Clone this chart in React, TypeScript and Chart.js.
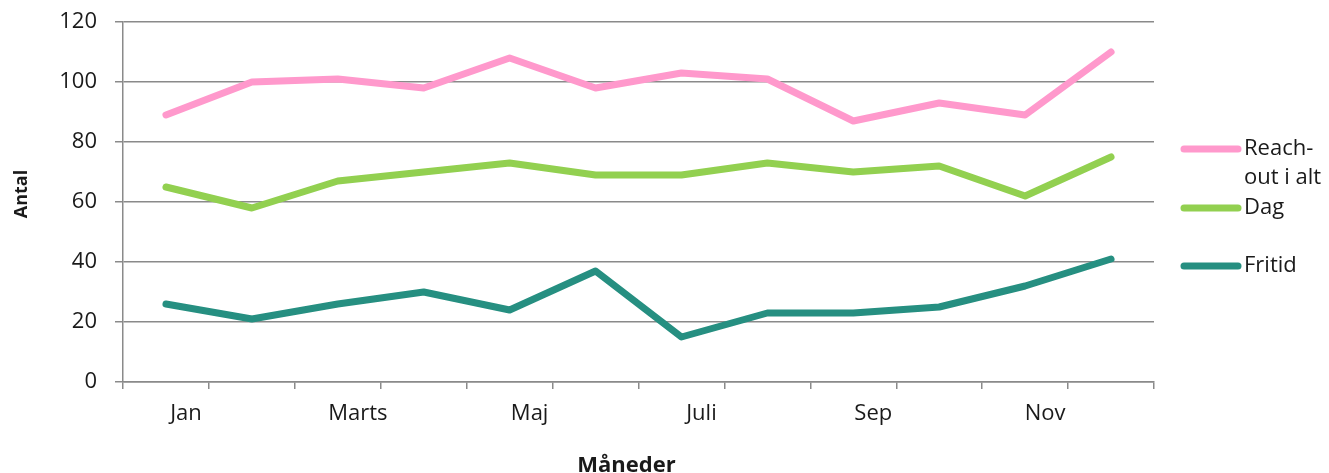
import React, { useEffect, useRef } from "react";
import { Chart, registerables } from "chart.js";

Chart.register(...registerables);

const months = ["Jan", "Feb", "Marts", "April", "Maj", "Juni", "Juli", "Aug", "Sep", "Okt", "Nov", "Dec"];
const reachOut = [89, 100, 101, 98, 108, 98, 103, 101, 87, 93, 89, 110];
const dag = [65, 58, 67, 70, 73, 69, 69, 73, 70, 72, 62, 75];
const fritid = [26, 21, 26, 30, 24, 37, 15, 23, 23, 25, 32, 41];
const seriesNames = ["Reach-out i alt", "Dag", "Fritid"];
const legendLines = [["Reach-", "out i alt"], ["Dag"], ["Fritid"]];
const seriesColors = ["#FF99CC", "#92D050", "#268F81"];
const yTicks = [0, 20, 40, 60, 80, 100, 120];
const xTitle = "Måneder";
const yTitle = "Antal";

const FONT = "'Open Sans', 'Noto Sans', sans-serif";
const TEXT = "#1a1a1a";
const GRID = "#8a8a8a";

const overlay = {
  id: "overlay",
  afterDraw(chart: any) {
    const ctx = chart.ctx as CanvasRenderingContext2D;
    const { left, right, top, bottom } = chart.chartArea;
    ctx.save();
    ctx.fillStyle = TEXT;
    // y title
    ctx.font = `bold 18px ${FONT}`;
    ctx.textAlign = "center";
    ctx.textBaseline = "middle";
    ctx.translate(left - 101, (top + bottom) / 2 - 8);
    ctx.rotate(-Math.PI / 2);
    ctx.fillText(yTitle, 0, 0);
    ctx.setTransform(1, 0, 0, 1, 0, 0);
    // x title
    ctx.font = `bold 22px ${FONT}`;
    ctx.fillText(xTitle, (left + right) / 2 - 12, bottom + 84);
    // legend
    const rowY = [top + 127, top + 186, top + 244];
    ctx.font = `22px ${FONT}`;
    ctx.textAlign = "left";
    chart.data.datasets.forEach((ds: any, i: number) => {
      const y = rowY[i];
      ctx.strokeStyle = ds.borderColor;
      ctx.lineWidth = 7;
      ctx.lineCap = "round";
      ctx.beginPath();
      ctx.moveTo(right + 30, y);
      ctx.lineTo(right + 84, y);
      ctx.stroke();
      ctx.fillStyle = TEXT;
      legendLines[i].forEach((t, j) => ctx.fillText(t, right + 90, y + j * 29));
    });
    ctx.restore();
  },
};

export default function App() {
  const ref = useRef<HTMLCanvasElement>(null);
  useEffect(() => {
    const canvas = ref.current!;
    const chart = new Chart(canvas, {
      type: "line",
      data: {
        labels: months,
        datasets: [reachOut, dag, fritid].map((d, i) => ({
          label: seriesNames[i],
          data: d,
          borderColor: seriesColors[i],
          backgroundColor: seriesColors[i],
          borderWidth: 7,
          borderCapStyle: "round" as const,
          borderJoinStyle: "round" as const,
          pointRadius: 0,
          tension: 0,
          fill: false,
        })),
      },
      options: {
        animation: false,
        responsive: false,
        layout: { padding: { top: 22, right: 175, left: 0, bottom: 0 } },
        plugins: { legend: { display: false }, tooltip: { enabled: false } },
        scales: {
          x: {
            offset: true,
            grid: { drawOnChartArea: false, offset: true, tickLength: 7, color: GRID, lineWidth: 1.5 },
            border: { color: GRID, width: 1.5 },
            ticks: {
              autoSkip: false,
              maxRotation: 0,
              labelOffset: 20,
              padding: 12,
              color: TEXT,
              font: { family: FONT, size: 22 },
              callback: (_v: any, i: number) => (i % 2 === 0 ? months[i] : ""),
            },
            afterFit: (s: any) => {
              s.height = 91;
              s.paddingLeft = 0;
              s.paddingRight = 0;
            },
          },
          y: {
            min: 0,
            max: 120,
            afterBuildTicks: (s: any) => {
              s.ticks = yTicks.map((v) => ({ value: v }));
            },
            grid: { color: GRID, lineWidth: 1.5, tickLength: 8 },
            border: { color: GRID, width: 1.5 },
            ticks: {
              padding: 18,
              color: TEXT,
              font: { family: FONT, size: 22 },
            },
            afterFit: (s: any) => {
              s.width = 123;
              s.paddingTop = 0;
              s.paddingBottom = 0;
            },
          },
        },
      },
      plugins: [overlay],
    });
    return () => chart.destroy();
  }, []);
  return (
    <canvas
      ref={ref}
      width={1329}
      height={473}
      style={{ position: "absolute", left: 0, top: 0, width: 1329, height: 473 }}
    />
  );
}
